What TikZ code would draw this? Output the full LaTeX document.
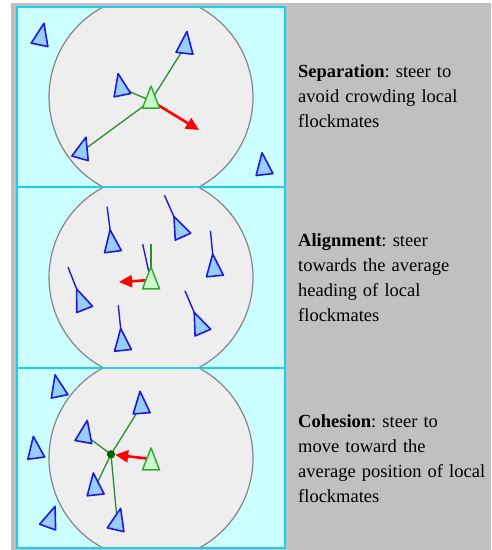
\documentclass[tikz,border=0pt]{standalone}
\usepackage{fontspec}
\setmainfont{Liberation Serif}
\usetikzlibrary{arrows.meta,calc}
\frenchspacing
\definecolor{bggrey}{HTML}{C0C0C0}
\definecolor{panelfill}{HTML}{CCFFFF}
\definecolor{panelline}{HTML}{22CCEE}
\definecolor{circfill}{HTML}{EEEEEE}
\definecolor{circline}{HTML}{858585}
\definecolor{boidfill}{HTML}{99CCFF}
\definecolor{boidline}{HTML}{1A1AE6}
\definecolor{gboidfill}{HTML}{CCFFCC}
\definecolor{gboidline}{HTML}{33AA33}
\definecolor{linkgreen}{HTML}{2E8B2E}
\definecolor{dotgreen}{HTML}{006600}
\tikzset{
  boidshape/.style={draw=boidline, fill=boidfill, line width=1.6pt, line join=round},
  greenboid/.style={draw=gboidline, fill=gboidfill, line width=1.5pt, line join=round},
  pics/boid/.style={code={\path[pic actions] (#1:14.7) -- (#1+229.3:11.2) -- (#1+130.7:11.2) -- cycle;}},
  pics/headboid/.style={code={\draw[draw=boidline, line width=1.4pt] (0,0) -- (#1:38);
     \path[draw=boidline, fill=boidfill, line width=1.6pt, line join=round] (#1:14.7) -- (#1+229.3:11.2) -- (#1+130.7:11.2) -- cycle;}},
  link/.style={draw=linkgreen, line width=1.3pt},
  heading/.style={draw=boidline, line width=1.4pt},
  steer/.style={draw=red, line width=2.6pt, -{Triangle[length=13pt,width=12pt]}},
  panel/.style={draw=panelline, line width=2pt},
  zone/.style={fill=circfill, draw=circline, line width=1.2pt},
  caption/.style={anchor=base west, inner sep=0pt, text width=192pt, align=left, font=\fontsize{18.5}{25}\selectfont},
}
\begin{document}
\begin{tikzpicture}[x=1pt,y=-1pt]
\useasboundingbox (0,0) rectangle (491,550);
\fill[white] (0,0) rectangle (491,550);
\fill[bggrey] (11,3) rectangle (491,550);

% ---------- Panel 1: separation ----------
\begin{scope}
  \clip (17,7) rectangle (285,187);
  \fill[panelfill] (17,7) rectangle (285,187);
  \draw[zone] (151,97) circle[radius=102];
\end{scope}
\coordinate (s1) at (41,37.7);
\coordinate (s2) at (185.3,46);
\coordinate (s3) at (121,88);
\coordinate (g1) at (151,100.7);
\coordinate (s4) at (82,151.3);
\coordinate (s5) at (263.7,167.3);
\coordinate (sep) at (199,130);
\draw[link] (g1) -- (s2);
\draw[link] (g1) -- (s3);
\draw[link] (g1) -- (s4);
\draw[steer] (g1) -- (sep);
\pic[boidshape] at (s1) {boid=-78.4};
\pic[boidshape] at (s2) {boid=-83.7};
\pic[boidshape] at (s3) {boid=-101.3};
\pic[boidshape] at (s4) {boid=-74.4};
\pic[boidshape] at (s5) {boid=-96.6};
\pic[greenboid] at (g1) {boid=-90};

% ---------- Panel 2: alignment ----------
\begin{scope}
  \clip (17,187) rectangle (285,368);
  \fill[panelfill] (17,187) rectangle (285,368);
  \draw[zone] (151,277.5) circle[radius=102];
\end{scope}
\coordinate (a1) at (112,244.4);
\coordinate (a2) at (180,230);
\coordinate (a3) at (214.2,268.7);
\coordinate (a4) at (82,302.6);
\coordinate (a5) at (122.2,343.1);
\coordinate (a6) at (200,325.9);
\coordinate (g2) at (151,281.6);
\coordinate (g2s) at (151,280);
\coordinate (g2h) at (151,244);
\coordinate (g2b) at (142.7,244.3);
\coordinate (ali) at (119,282);
\draw[heading] (g2) -- (g2b);
\draw[link] (g2) -- (g2h);
\draw[steer] (g2s) -- (ali);
\pic at (a1) {headboid=-97.4};
\pic at (a2) {headboid=-114.2};
\pic at (a3) {headboid=-95.7};
\pic at (a4) {headboid=-111.5};
\pic at (a5) {headboid=-95.9};
\pic at (a6) {headboid=-113.2};
\pic[greenboid] at (g2) {boid=-90};

% ---------- Panel 3: cohesion ----------
\begin{scope}
  \clip (17,368) rectangle (285,548);
  \fill[panelfill] (17,368) rectangle (285,548);
  \draw[zone] (151,458) circle[radius=102];
\end{scope}
\coordinate (c1) at (58.1,389.2);
\coordinate (c2) at (141.1,406);
\coordinate (c3) at (84.7,434.8);
\coordinate (c4) at (35.3,450.9);
\coordinate (g3) at (151,462.6);
\coordinate (g3s) at (151,459);
\coordinate (c5) at (94.9,487.6);
\coordinate (c6) at (50.1,520.2);
\coordinate (c7) at (117.3,522.6);
\node[circle, fill=dotgreen, inner sep=0pt, minimum size=8pt] (avg) at (111,454.3) {};
\draw[link] (avg.center) -- (c2);
\draw[link] (avg.center) -- (c3);
\draw[link] (avg.center) -- (c5);
\draw[link] (avg.center) -- (c7);
\node[circle, fill=dotgreen, inner sep=0pt, minimum size=8pt] at (avg.center) {};
\draw[steer] (g3s) -- (avg);
\pic[boidshape] at (c1) {boid=-101.9};
\pic[boidshape] at (c2) {boid=-94.3};
\pic[boidshape] at (c3) {boid=-79.8};
\pic[boidshape] at (c4) {boid=-97.5};
\pic[boidshape] at (c5) {boid=-96.2};
\pic[boidshape] at (c6) {boid=-70.2};
\pic[boidshape] at (c7) {boid=-76.9};
\pic[greenboid] at (g3) {boid=-90};

% ---------- panel frames ----------
\draw[panel] (17,7) rectangle (285,548);
\draw[panel] (17,187) -- (285,187);
\draw[panel] (17,368) -- (285,368);

% ---------- captions ----------
\node[caption] (tsep) at (298,77.5) {\textbf{Separation}: steer to\\avoid crowding local\\flockmates};
\node[caption] (tali) at (298,246.7) {\textbf{Alignment}: steer\\towards the average\\heading of local\\flockmates};
\node[caption] (tcoh) at (298,427) {\textbf{Cohesion}: steer to\\move toward the\\average position of local\\flockmates};
\end{tikzpicture}
\end{document}
